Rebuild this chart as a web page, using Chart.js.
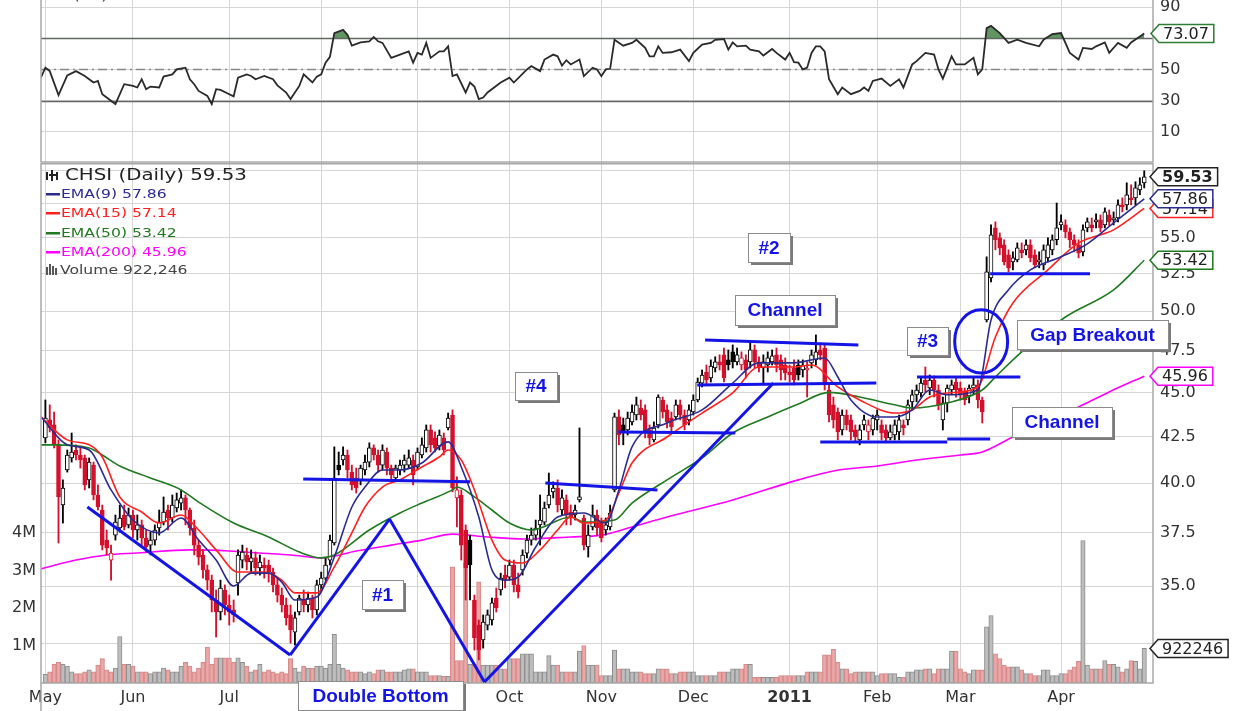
<!DOCTYPE html>
<html>
<head>
<meta charset="utf-8">
<title>CHSI Daily</title>
<script src="https://cdn.jsdelivr.net/npm/chart.js@4.4.0/dist/chart.umd.min.js"></script>
<style>
  html, body { margin: 0; padding: 0; background: #fff; }
  #wrap { position: relative; width: 1235px; height: 711px; overflow: hidden; background: #fff; }
  #rsi-chart { position: absolute; left: 0; top: 0; }
  #price-chart { position: absolute; left: 0; top: 163px; }
</style>
</head>
<body>
<div id="wrap">
  <canvas id="rsi-chart" width="1235" height="163"></canvas>
  <canvas id="price-chart" width="1235" height="548"></canvas>
</div>
<script>
// trading days are numbered 0..251 (May 3 2010 .. Apr 29 2011)
var monthDays = [0, 20, 42, 63, 85, 106, 127, 148, 170, 190, 209, 232];
var monthLabels = ['May', 'Jun', 'Jul', 'Aug', 'Sep', 'Oct', 'Nov', 'Dec', '2011', 'Feb', 'Mar', 'Apr'];
var priceTicks = [32.5, 35, 37.5, 40, 42.5, 45, 47.5, 50, 52.5, 55, 57.5, 60];
var volumeTicks = [1e6, 2e6, 3e6, 4e6];
var rsiTicks = [-10, 0, 10, 20, 30, 40, 50, 60, 70, 80, 90];

var openP = [
  42.42, 43.42, 43.14, 42.04, 38.88, 40.69, 41.33, 41.76, 41.49, 41.33,
  40.17, 40.95, 39.39, 38.63, 37.15, 36.20, 37.39, 37.74, 38.38, 37.89,
  38.38, 37.64, 37.89, 37.25, 36.91, 37.15, 37.74, 38.03, 38.63, 38.23,
  38.73, 38.98, 39.24, 38.63, 37.74, 36.91, 36.44, 35.74, 35.27, 34.37,
  33.84, 34.82, 34.15, 33.93, 35.14, 36.20, 36.44, 36.11, 36.30, 35.83,
  35.97, 35.97, 35.64, 35.05, 34.59, 34.15, 33.71, 32.97, 33.84, 34.37,
  34.15, 34.46, 33.93, 35.05, 35.36, 36.20, 37.01, 40.95, 41.22, 41.49,
  40.58, 40.27, 40.17, 40.69, 41.11, 41.87, 41.49, 40.95, 41.65, 40.79,
  40.27, 40.69, 40.95, 40.95, 41.22, 40.85, 41.49, 41.87, 42.86, 42.42,
  41.98, 42.42, 42.97, 43.70, 39.24, 39.39, 37.64, 37.15, 34.37, 33.27,
  32.63, 33.27, 33.49, 34.46, 34.82, 35.50, 35.41, 35.97, 35.05, 35.74,
  36.53, 37.15, 37.39, 37.89, 38.03, 38.88, 39.55, 39.75, 38.63, 39.14,
  38.53, 38.38, 39.14, 38.23, 36.82, 37.79, 38.38, 38.03, 37.64, 37.79,
  39.65, 43.59, 43.14, 42.86, 43.31, 43.70, 44.10, 43.99, 42.86, 42.31,
  43.14, 44.56, 43.99, 43.53, 43.59, 44.28, 43.70, 43.42, 43.87, 44.56,
  45.55, 46.21, 45.85, 46.45, 46.82, 47.25, 46.94, 47.43, 46.82, 46.63,
  46.94, 46.82, 47.55, 46.82, 46.45, 46.63, 46.82, 47.25, 46.94, 46.63,
  46.21, 46.45, 46.63, 46.33, 46.33, 46.76, 46.94, 47.55, 47.67, 45.14,
  44.28, 43.87, 42.86, 43.70, 43.42, 42.86, 42.31, 43.14, 42.75, 42.86,
  43.42, 43.14, 42.86, 42.42, 42.58, 42.75, 43.14, 43.42, 44.45, 44.86,
  44.97, 45.73, 45.26, 45.73, 45.14, 43.42, 44.39, 45.14, 45.61, 45.26,
  45.03, 44.80, 45.26, 45.44, 44.56, 49.44, 52.21, 55.71, 55.00, 54.50,
  53.80, 53.31, 53.45, 54.15, 54.15, 54.50, 53.80, 53.31, 53.10, 53.59,
  54.15, 54.86, 55.93, 55.93, 55.43, 54.86, 54.50, 54.01, 55.71, 55.93,
  56.15, 56.30, 55.93, 56.66, 56.30, 56.44, 57.40, 57.40, 57.93, 57.93,
  58.53, 59.07
];
var highP = [
  44.56, 44.28, 43.87, 42.31, 40.17, 41.76, 42.69, 42.04, 41.87, 41.49,
  41.33, 41.11, 39.91, 38.88, 37.64, 36.91, 38.38, 38.88, 38.88, 38.73,
  38.63, 38.38, 38.13, 37.64, 37.54, 37.89, 38.63, 39.29, 38.88, 39.39,
  39.49, 39.65, 39.39, 38.73, 38.13, 37.15, 36.68, 35.97, 35.50, 34.82,
  35.27, 35.05, 34.59, 34.37, 36.68, 36.91, 36.77, 36.68, 36.58, 36.44,
  36.30, 36.20, 35.83, 35.36, 34.91, 34.46, 34.15, 33.84, 34.59, 34.82,
  34.73, 34.59, 35.27, 35.64, 36.30, 37.39, 41.93, 41.65, 41.93, 41.76,
  40.95, 40.79, 40.95, 41.49, 42.15, 42.04, 41.76, 42.04, 41.87, 40.95,
  40.95, 41.22, 41.49, 41.76, 41.49, 41.87, 42.42, 43.14, 43.14, 42.75,
  42.86, 42.69, 43.81, 43.99, 40.33, 39.65, 37.89, 37.39, 34.59, 33.49,
  33.71, 33.93, 34.46, 34.91, 35.59, 35.97, 36.20, 36.20, 35.59, 36.68,
  37.39, 37.74, 38.13, 39.39, 39.03, 40.53, 40.07, 40.17, 39.65, 39.39,
  38.88, 38.88, 42.97, 38.38, 37.89, 38.88, 38.63, 38.23, 38.23, 38.88,
  43.81, 43.99, 43.53, 43.87, 44.28, 44.73, 44.56, 44.28, 43.14, 43.31,
  44.86, 44.73, 44.28, 43.87, 44.56, 44.56, 43.99, 44.28, 44.86, 45.85,
  46.33, 46.63, 46.94, 47.13, 47.25, 47.67, 47.55, 47.86, 47.67, 47.43,
  47.25, 48.04, 47.86, 47.13, 47.25, 47.43, 47.55, 47.67, 47.25, 47.06,
  46.63, 46.94, 46.94, 46.94, 46.82, 47.55, 48.49, 47.86, 47.86, 45.44,
  44.73, 44.10, 43.99, 43.99, 43.70, 43.14, 43.14, 43.70, 43.42, 43.70,
  43.99, 43.42, 43.14, 43.14, 43.42, 43.70, 43.42, 44.56, 45.14, 45.44,
  45.85, 46.51, 46.03, 45.97, 45.44, 44.73, 45.44, 45.73, 45.85, 45.61,
  45.26, 45.44, 45.91, 45.73, 44.73, 53.66, 55.93, 56.15, 55.35, 54.86,
  54.15, 54.01, 54.64, 54.64, 54.86, 54.86, 54.15, 54.01, 54.50, 55.00,
  55.21, 57.54, 56.66, 56.30, 55.71, 55.21, 54.86, 55.93, 56.44, 56.44,
  56.74, 56.66, 57.18, 57.03, 56.88, 57.78, 57.93, 59.07, 58.92, 59.15,
  59.46, 60.00
];
var lowP = [
  42.15, 42.75, 41.87, 37.01, 37.98, 40.58, 41.11, 41.22, 40.79, 39.65,
  39.75, 39.14, 38.63, 36.68, 36.44, 35.27, 37.15, 37.54, 37.64, 37.74,
  37.25, 37.15, 36.91, 36.58, 36.44, 36.91, 37.39, 37.89, 37.64, 38.03,
  38.53, 38.63, 37.89, 37.39, 36.44, 35.97, 35.36, 34.82, 33.84, 32.76,
  33.49, 33.71, 33.27, 33.40, 34.59, 35.83, 35.74, 35.64, 35.50, 35.50,
  35.36, 35.18, 34.73, 34.28, 33.84, 33.27, 32.50, 32.42, 33.71, 33.84,
  33.84, 33.58, 33.71, 34.82, 35.27, 35.97, 36.91, 40.43, 40.95, 40.27,
  39.65, 39.49, 39.91, 40.43, 40.85, 41.22, 40.58, 40.69, 40.43, 40.17,
  40.07, 40.43, 40.58, 40.79, 39.91, 40.69, 41.33, 41.65, 41.65, 41.65,
  41.76, 41.49, 42.86, 39.55, 37.79, 36.20, 34.37, 34.37, 32.21, 31.80,
  32.29, 33.06, 33.27, 33.84, 34.59, 34.91, 35.27, 34.73, 34.46, 35.50,
  36.30, 36.91, 37.15, 36.91, 37.89, 38.73, 39.24, 38.53, 38.38, 37.89,
  37.89, 38.13, 39.03, 36.68, 36.34, 37.64, 37.39, 37.06, 37.39, 37.64,
  39.55, 42.04, 42.04, 42.58, 43.14, 43.42, 43.42, 42.42, 42.04, 42.20,
  42.97, 43.53, 42.97, 42.75, 43.42, 43.42, 42.86, 43.14, 43.70, 44.45,
  45.32, 45.44, 45.61, 46.21, 46.33, 45.61, 46.33, 46.45, 46.63, 46.33,
  45.85, 46.45, 46.45, 46.21, 45.44, 46.21, 46.63, 46.21, 45.73, 45.73,
  45.61, 45.44, 45.73, 45.91, 44.73, 46.45, 46.63, 46.94, 45.14, 43.31,
  42.97, 42.31, 42.58, 42.86, 42.31, 42.20, 42.04, 42.86, 42.31, 42.58,
  42.86, 42.31, 42.20, 42.31, 42.31, 42.31, 42.58, 43.14, 43.99, 44.45,
  44.73, 45.02, 44.86, 44.73, 43.99, 42.86, 43.87, 44.86, 44.73, 44.56,
  44.28, 44.39, 44.86, 44.10, 43.25, 49.31, 51.94, 54.15, 53.80, 53.10,
  52.62, 52.76, 53.31, 53.59, 53.80, 53.31, 52.90, 52.90, 52.76, 53.31,
  53.80, 54.50, 55.57, 55.00, 54.29, 54.01, 53.59, 53.73, 55.43, 55.43,
  55.71, 55.43, 55.71, 55.86, 55.93, 56.15, 56.88, 57.03, 57.40, 57.40,
  58.16, 58.68
];
var closeP = [
  43.53, 42.97, 42.04, 39.29, 39.75, 41.49, 41.65, 41.49, 41.22, 39.91,
  41.11, 39.39, 38.78, 36.91, 36.77, 36.53, 38.03, 38.23, 37.79, 38.38,
  37.64, 37.89, 37.25, 36.82, 37.15, 37.64, 38.03, 38.53, 38.23, 38.88,
  39.14, 39.24, 38.63, 37.74, 36.91, 36.34, 35.74, 35.27, 34.37, 33.84,
  34.91, 34.15, 33.84, 33.71, 36.44, 36.58, 36.11, 36.30, 35.83, 36.11,
  35.83, 35.64, 35.05, 34.59, 34.15, 33.58, 33.06, 33.58, 34.46, 34.15,
  34.46, 33.93, 35.05, 35.36, 35.97, 37.15, 40.27, 40.69, 41.49, 40.69,
  39.91, 39.75, 40.79, 41.11, 41.87, 41.49, 40.95, 41.76, 40.79, 40.43,
  40.79, 40.95, 41.22, 41.33, 40.43, 41.65, 42.04, 42.86, 42.04, 41.87,
  42.58, 41.76, 43.53, 39.75, 39.65, 36.91, 35.83, 35.97, 32.72, 32.21,
  33.40, 33.71, 34.24, 34.02, 35.36, 35.27, 35.97, 35.05, 34.73, 36.44,
  37.15, 37.39, 37.74, 38.13, 38.73, 39.39, 39.75, 38.88, 39.24, 38.38,
  38.23, 38.63, 39.29, 36.91, 37.39, 38.38, 37.74, 37.25, 37.89, 38.48,
  43.59, 42.58, 42.75, 43.53, 43.87, 44.28, 43.70, 42.75, 42.42, 42.97,
  44.73, 43.87, 43.31, 43.03, 44.28, 43.70, 43.14, 43.99, 44.56, 45.61,
  46.03, 45.73, 46.57, 46.82, 46.63, 45.85, 46.63, 46.82, 47.25, 47.06,
  46.33, 47.55, 46.82, 46.45, 46.82, 47.06, 47.19, 46.63, 46.33, 46.15,
  46.03, 45.73, 46.03, 46.63, 46.45, 47.25, 47.43, 47.25, 45.44, 43.70,
  43.42, 42.75, 43.70, 43.14, 42.75, 42.47, 42.86, 43.42, 43.14, 43.53,
  43.70, 42.69, 42.42, 42.75, 43.14, 43.42, 42.97, 44.28, 44.86, 45.14,
  45.55, 45.44, 45.73, 45.14, 44.28, 44.39, 45.26, 45.44, 45.14, 44.86,
  44.56, 45.26, 45.44, 44.56, 43.87, 52.62, 55.21, 54.86, 54.29, 53.31,
  52.90, 53.59, 54.29, 53.94, 54.50, 53.59, 53.10, 53.45, 54.15, 54.50,
  54.86, 55.71, 56.15, 55.43, 54.86, 54.50, 53.94, 55.57, 56.15, 55.71,
  56.30, 55.71, 56.88, 56.15, 56.44, 57.40, 57.25, 58.16, 57.78, 58.68,
  58.92, 59.53
];
// volume in millions of shares
var volumeM = [
  0.23, 0.30, 0.50, 0.55, 0.50, 0.45, 0.30, 0.25, 0.25, 0.30,
  0.35, 0.30, 0.48, 0.65, 0.35, 0.30, 0.40, 1.24, 0.50, 0.50,
  0.45, 0.30, 0.30, 0.30, 0.25, 0.30, 0.30, 0.40, 0.35, 0.30,
  0.30, 0.45, 0.55, 0.45, 0.30, 0.40, 0.55, 0.96, 0.50, 0.67,
  0.67, 0.67, 0.67, 0.55, 0.67, 0.55, 0.45, 0.30, 0.35, 0.50,
  0.30, 0.35, 0.30, 0.25, 0.30, 0.25, 0.65, 0.40, 0.30, 0.45,
  0.40, 0.40, 0.45, 0.45, 0.40, 0.50, 1.30, 0.50, 0.40, 0.35,
  0.30, 0.30, 0.30, 0.25, 0.30, 0.25, 0.35, 0.35, 0.30, 0.30,
  0.30, 0.30, 0.35, 0.38, 0.38, 0.30, 0.30, 0.30, 0.20, 0.20,
  0.20, 0.18, 0.18, 3.10, 0.60, 0.60, 3.20, 0.50, 0.50, 2.70,
  0.48, 0.48, 0.48, 0.48, 0.38, 0.38, 0.65, 0.65, 0.65, 0.78,
  0.78, 0.78, 0.30, 0.30, 0.30, 0.73, 0.48, 0.48, 0.30, 0.30,
  0.30, 0.30, 0.85, 1.00, 0.48, 0.48, 0.48, 0.20, 0.20, 0.20,
  0.88, 0.38, 0.38, 0.38, 0.30, 0.30, 0.30, 0.25, 0.25, 0.25,
  0.38, 0.38, 0.38, 0.25, 0.25, 0.30, 0.30, 0.30, 0.30, 0.20,
  0.20, 0.20, 0.20, 0.20, 0.30, 0.30, 0.30, 0.38, 0.38, 0.38,
  0.50, 0.50, 0.15, 0.15, 0.15, 0.15, 0.15, 0.15, 0.20, 0.20,
  0.20, 0.20, 0.20, 0.20, 0.30, 0.30, 0.30, 0.30, 0.75, 0.75,
  0.90, 0.55, 0.38, 0.38, 0.25, 0.30, 0.30, 0.30, 0.30, 0.30,
  0.20, 0.25, 0.25, 0.25, 0.25, 0.15, 0.15, 0.30, 0.30, 0.35,
  0.35, 0.38, 0.38, 0.25, 0.38, 0.38, 0.38, 0.85, 0.85, 0.38,
  0.30, 0.25, 0.35, 0.35, 0.35, 1.50, 1.80, 0.78, 0.65, 0.48,
  0.43, 0.43, 0.43, 0.35, 0.25, 0.25, 0.20, 0.20, 0.35, 0.35,
  0.20, 0.20, 0.25, 0.25, 0.35, 0.43, 0.58, 3.80, 0.48, 0.38,
  0.38, 0.38, 0.60, 0.50, 0.50, 0.43, 0.30, 0.38, 0.60, 0.58,
  0.38, 0.922246
];

// moving averages, read at turning points (day, price)
var ema9Day = [-1, 5, 10, 15, 20, 26, 31, 35, 39, 43, 47, 51, 54, 57, 62, 66, 70, 73, 77, 81, 86, 92, 95, 99, 102, 105, 108, 112, 117, 123, 128, 131, 134, 142, 150, 157, 163, 171, 178, 181, 184, 190, 194, 198, 202, 206, 213, 216, 220, 225, 232, 238, 244, 251];
var ema9Val = [43.59, 42.04, 41.76, 39.65, 38.13, 37.50, 38.23, 37.15, 36.20, 35.00, 35.59, 35.59, 35.18, 34.37, 34.50, 36.34, 38.78, 39.80, 40.69, 40.69, 41.06, 42.20, 40.85, 38.28, 35.74, 35.27, 35.41, 36.82, 38.28, 38.48, 37.98, 39.65, 41.93, 43.25, 43.99, 45.55, 46.76, 46.76, 47.06, 45.91, 44.56, 43.59, 43.59, 43.99, 45.14, 44.86, 45.14, 49.44, 51.41, 52.76, 53.66, 54.57, 56.08, 57.86];
var ema15Day = [-1, 5, 10, 13, 17, 22, 26, 31, 35, 39, 44, 50, 54, 57, 62, 66, 70, 73, 77, 81, 86, 90, 92, 95, 98, 102, 105, 109, 113, 117, 120, 123, 128, 131, 134, 142, 150, 157, 163, 171, 175, 181, 186, 194, 198, 202, 206, 213, 217, 221, 229, 236, 244, 251];
var ema15Val = [43.59, 42.31, 42.04, 41.38, 39.29, 38.53, 37.98, 38.38, 37.64, 36.68, 35.64, 35.64, 35.27, 34.69, 34.69, 35.88, 37.50, 38.78, 39.80, 40.17, 40.85, 41.38, 41.76, 41.22, 39.65, 37.15, 36.20, 36.06, 36.68, 37.64, 38.28, 37.98, 38.13, 39.49, 41.06, 42.47, 43.81, 44.97, 46.51, 46.51, 46.63, 45.32, 44.56, 43.81, 43.99, 44.73, 44.97, 45.32, 48.36, 50.54, 52.76, 54.64, 55.57, 57.14];
var ema50Day = [-1, 2, 10, 13, 17, 24, 31, 35, 43, 51, 58, 63, 66, 74, 81, 86, 93, 94, 98, 102, 106, 111, 120, 123, 130, 134, 142, 150, 157, 165, 172, 179, 186, 194, 198, 206, 214, 217, 223, 233, 244, 251];
var ema50Val = [42.04, 42.04, 41.87, 41.49, 40.90, 40.27, 39.65, 39.03, 37.98, 37.30, 36.58, 36.30, 36.44, 37.64, 38.48, 38.98, 39.65, 39.80, 39.29, 38.63, 37.98, 37.64, 38.28, 38.03, 38.13, 38.98, 40.17, 41.33, 42.69, 43.59, 44.33, 45.00, 44.73, 44.28, 44.10, 44.39, 45.14, 45.91, 47.43, 49.63, 51.41, 53.42];
var ema200Day = [-1, 7, 14, 21, 33, 42, 49, 56, 63, 71, 79, 86, 93, 101, 109, 120, 127, 134, 142, 157, 172, 180, 190, 199, 209, 214, 221, 229, 236, 243, 251];
var ema200Val = [35.79, 36.20, 36.44, 36.53, 36.68, 36.63, 36.53, 36.44, 36.30, 36.63, 36.91, 37.15, 37.44, 37.30, 37.20, 37.30, 37.39, 37.79, 38.28, 39.14, 40.17, 40.64, 40.90, 41.22, 41.49, 41.65, 42.47, 43.36, 44.16, 45.03, 45.96];

// RSI(14) readings (day, value)
var rsiDay = [-1, 0, 1, 3, 5, 7, 9, 10, 11, 12, 13, 14, 16, 18, 20, 21, 22, 23, 24, 26, 27, 29, 30, 32, 33, 34, 35, 37, 38, 39, 40, 42, 43, 44, 46, 47, 48, 50, 52, 53, 55, 56, 58, 59, 61, 62, 63, 64, 65, 66, 68, 69, 70, 72, 74, 75, 76, 77, 79, 81, 83, 84, 85, 86, 87, 88, 90, 91, 92, 93, 94, 96, 97, 98, 99, 100, 101, 104, 106, 107, 110, 111, 113, 114, 116, 117, 118, 119, 120, 122, 123, 125, 126, 127, 128, 129, 130, 132, 134, 135, 137, 138, 139, 140, 141, 143, 145, 147, 148, 150, 152, 153, 155, 156, 157, 158, 160, 161, 163, 164, 166, 167, 169, 170, 171, 172, 173, 174, 175, 176, 177, 178, 179, 181, 182, 184, 186, 187, 188, 189, 191, 193, 195, 196, 198, 199, 201, 203, 204, 205, 207, 208, 210, 212, 213, 214, 215, 216, 218, 220, 222, 224, 227, 228, 230, 232, 234, 236, 237, 239, 240, 242, 243, 245, 247, 248, 250, 251];
var rsiVal = [44.9, 51.1, 48.9, 33.5, 46.2, 48.9, 45.8, 43.7, 41.6, 42.6, 34.1, 32.0, 27.8, 40.5, 39.4, 38.4, 43.7, 37.3, 39.0, 38.4, 45.4, 46.8, 50.0, 51.1, 43.7, 40.5, 36.2, 33.0, 27.8, 37.3, 36.9, 34.1, 32.7, 44.7, 46.8, 45.8, 43.7, 45.8, 43.7, 39.8, 35.2, 31.0, 39.4, 46.8, 41.6, 45.4, 46.8, 54.3, 58.1, 73.3, 75.4, 72.2, 65.2, 67.3, 68.0, 70.8, 68.0, 67.0, 57.4, 59.5, 61.6, 54.3, 60.6, 59.5, 67.0, 57.4, 61.6, 61.6, 64.8, 45.7, 46.8, 35.2, 41.6, 39.0, 31.0, 32.0, 35.2, 41.6, 44.7, 41.6, 50.0, 52.1, 48.9, 56.3, 59.5, 58.4, 52.5, 55.9, 53.2, 56.3, 45.7, 51.1, 50.0, 45.7, 50.0, 50.4, 69.0, 65.2, 67.0, 69.0, 63.8, 58.4, 58.4, 64.8, 60.6, 61.0, 62.7, 55.3, 60.6, 65.9, 67.0, 69.0, 69.5, 62.7, 67.3, 64.8, 65.2, 62.7, 61.6, 58.9, 63.1, 60.6, 56.3, 60.6, 54.6, 54.3, 50.0, 51.1, 60.6, 64.8, 64.8, 61.6, 43.7, 34.1, 38.4, 34.1, 36.2, 38.4, 36.2, 42.6, 44.1, 39.4, 43.7, 38.4, 53.2, 55.3, 60.6, 59.5, 50.0, 44.1, 58.4, 53.2, 53.2, 57.4, 46.8, 50.0, 76.5, 77.9, 73.3, 67.0, 69.0, 67.0, 64.8, 69.0, 72.7, 73.3, 60.6, 56.3, 63.8, 63.1, 64.8, 67.3, 60.6, 67.0, 63.8, 67.3, 71.1, 73.07];

// hand-drawn pattern lines: [day1, price1, day2, price2]
var trendLines = [
  [9.6, 38.78, 55.9, 32.00],
  [55.9, 32.00, 78.6, 38.18],
  [78.6, 38.18, 100.3, 30.90],
  [100.3, 30.90, 166.3, 45.55],
  [58.9, 40.22, 97.0, 40.07],
  [114.2, 40.01, 139.8, 39.65],
  [130.9, 42.75, 157.6, 42.69],
  [148.9, 45.44, 189.8, 45.55],
  [150.7, 48.17, 185.7, 47.86],
  [177.0, 42.20, 206.0, 42.20],
  [206.0, 42.36, 215.8, 42.36],
  [199.1, 45.91, 222.7, 45.91],
  [215.8, 52.50, 238.6, 52.50]
];
// note boxes: text, top-left anchor (day, price), size in px
var notes = [
  { text: '#2', day: 160.5, price: 55.35, w: 42, h: 29 },
  { text: 'Channel', day: 157.6, price: 51.07, w: 100, h: 30 },
  { text: '#4', day: 107.3, price: 46.21, w: 42, h: 28 },
  { text: '#3', day: 196.8, price: 49.00, w: 41, h: 28 },
  { text: 'Gap Breakout', day: 222.0, price: 49.44, w: 151, h: 29 },
  { text: 'Channel', day: 220.8, price: 44.16, w: 100, h: 30 },
  { text: '#1', day: 72.4, price: 35.27, w: 41, h: 29 },
  { text: 'Double Bottom', day: 57.8, price: 30.94, w: 165, h: 29 }
];
// circled gap: day range and price range
var gapCircle = { day1: 207.7, day2: 219.8, price1: 46.15, price2: 50.09 };

var RED = '#d4102c';
var BLUE = '#1414e6';
var lastIdx = closeP.length - 1;

var candleColor = closeP.map(function (c, k) {
  return (k === 0 || c >= closeP[k - 1]) ? '#000000' : RED;
});
var bodyFill = closeP.map(function (c, k) {
  return c > openP[k] ? '#ffffff' : candleColor[k];
});

// keep every axis flush with the panel edges
function fixSize(w, h) {
  return function (s) {
    if (w !== null) s.width = w;
    if (h !== null) s.height = h;
    s.paddingTop = 0; s.paddingBottom = 0; s.paddingLeft = 0; s.paddingRight = 0;
  };
}

function drawTag(ctx, x, y, text, border, bold) {
  ctx.save();
  ctx.font = (bold ? 'bold ' : '') + '16px "DejaVu Sans"';
  var w = ctx.measureText(text).width + 9;
  var h = 18;
  ctx.beginPath();
  ctx.moveTo(x, y);
  ctx.lineTo(x + 8, y - h / 2);
  ctx.lineTo(x + 8 + w, y - h / 2);
  ctx.lineTo(x + 8 + w, y + h / 2);
  ctx.lineTo(x + 8, y + h / 2);
  ctx.closePath();
  ctx.fillStyle = '#ffffff';
  ctx.fill();
  ctx.lineWidth = 1.5;
  ctx.strokeStyle = border;
  ctx.stroke();
  ctx.fillStyle = '#222';
  ctx.textBaseline = 'middle';
  ctx.textAlign = 'left';
  ctx.fillText(text, x + 12, y + 1);
  ctx.restore();
}

function wideText(ctx, text, x, y, color, font) {
  ctx.save();
  ctx.font = font;
  ctx.fillStyle = color;
  ctx.textBaseline = 'middle';
  ctx.translate(x, y);
  ctx.scale(1.2, 1);
  ctx.fillText(text, 0, 0);
  ctx.restore();
}

// ---------- RSI panel ----------
var rsiPanel = {
  id: 'rsiPanel',
  beforeDatasetsDraw: function (chart) {
    var ctx = chart.ctx, a = chart.chartArea, ys = chart.scales.y;
    ctx.save();
    [30, 70].forEach(function (v) {
      var y = Math.round(ys.getPixelForValue(v)) + 0.5;
      ctx.strokeStyle = '#666';
      ctx.lineWidth = 1.5;
      ctx.beginPath(); ctx.moveTo(a.left, y); ctx.lineTo(a.right, y); ctx.stroke();
    });
    var y50 = Math.round(ys.getPixelForValue(50)) + 0.5;
    ctx.strokeStyle = '#888';
    ctx.setLineDash([9, 4, 2, 4]);
    ctx.beginPath(); ctx.moveTo(a.left, y50); ctx.lineTo(a.right, y50); ctx.stroke();
    ctx.restore();
  },
  afterDraw: function (chart) {
    var ctx = chart.ctx, a = chart.chartArea, ys = chart.scales.y;
    ctx.save();
    ctx.strokeStyle = '#a8a8a8';
    ctx.lineWidth = 1.5;
    ctx.strokeRect(a.left, a.top - 2, a.right - a.left, a.bottom - a.top + 1);
    ctx.restore();
    wideText(ctx, 'RSI(14) 73.07', 46, -4, '#333', '14px "DejaVu Sans"');
    drawTag(ctx, a.right - 2, ys.getPixelForValue(rsiVal[rsiVal.length - 1]), rsiVal[rsiVal.length - 1].toFixed(2), '#2e7d32', false);
  }
};

new Chart(document.getElementById('rsi-chart'), {
  type: 'line',
  data: {
    datasets: [{
      data: rsiDay.map(function (d, k) { return { x: d, y: rsiVal[k] }; }),
      borderColor: '#2a2a2a',
      borderWidth: 1.8,
      pointRadius: 0,
      tension: 0,
      fill: { target: { value: 70 }, above: 'rgba(70,128,70,0.85)', below: 'rgba(0,0,0,0)' }
    }]
  },
  options: {
    responsive: false,
    animation: false,
    layout: { padding: { left: 41, top: 0, right: 0, bottom: 0 } },
    plugins: { legend: { display: false }, tooltip: { enabled: false } },
    scales: {
      x: {
        type: 'linear', min: -1, max: 253, offset: false,
        afterBuildTicks: function (s) { s.ticks = monthDays.map(function (v) { return { value: v }; }); },
        afterFit: fixSize(null, 0),
        ticks: { display: false },
        grid: { color: '#d6d6d6', drawTicks: false },
        border: { display: false }
      },
      y: {
        position: 'right', min: -10, max: 94.5,
        afterBuildTicks: function (s) { s.ticks = rsiTicks.map(function (v) { return { value: v }; }); },
        afterFit: fixSize(82, null),
        ticks: {
          padding: 7, color: '#333', font: { family: 'DejaVu Sans', size: 16 },
          callback: function (v) { return [10, 30, 50, 70, 90].indexOf(v) >= 0 ? String(v) : ''; }
        },
        grid: { color: '#d6d6d6', drawTicks: false },
        border: { display: false }
      }
    }
  },
  plugins: [rsiPanel]
});

// ---------- price / volume panel ----------
var pricePanel = {
  id: 'pricePanel',
  afterDraw: function (chart) {
    var ctx = chart.ctx, a = chart.chartArea, xs = chart.scales.x, ys = chart.scales.y, yv = chart.scales.yVol;
    ctx.save();
    ctx.strokeStyle = '#a8a8a8';
    ctx.lineWidth = 1.5;
    ctx.strokeRect(a.left, a.top + 0.75, a.right - a.left, a.bottom - a.top - 0.75);
    ctx.beginPath(); ctx.moveTo(a.left, a.bottom); ctx.lineTo(a.left, chart.height); ctx.stroke();

    // pattern lines
    ctx.strokeStyle = BLUE;
    ctx.lineWidth = 3;
    trendLines.forEach(function (l) {
      ctx.beginPath();
      ctx.moveTo(xs.getPixelForValue(l[0]), ys.getPixelForValue(l[1]));
      ctx.lineTo(xs.getPixelForValue(l[2]), ys.getPixelForValue(l[3]));
      ctx.stroke();
    });
    var cx1 = xs.getPixelForValue(gapCircle.day1), cx2 = xs.getPixelForValue(gapCircle.day2);
    var cy1 = ys.getPixelForValue(gapCircle.price2), cy2 = ys.getPixelForValue(gapCircle.price1);
    ctx.beginPath();
    ctx.ellipse((cx1 + cx2) / 2, (cy1 + cy2) / 2, (cx2 - cx1) / 2, (cy2 - cy1) / 2, 0, 0, Math.PI * 2);
    ctx.stroke();

    // note boxes
    notes.forEach(function (n) {
      var x = Math.round(xs.getPixelForValue(n.day)), y = Math.round(ys.getPixelForValue(n.price));
      ctx.fillStyle = '#7a7a7a';
      ctx.fillRect(x + 3, y + 3, n.w, n.h);
      ctx.fillStyle = '#ffffff';
      ctx.fillRect(x, y, n.w, n.h);
      ctx.strokeStyle = '#8c8c8c';
      ctx.lineWidth = 1;
      ctx.strokeRect(x + 0.5, y + 0.5, n.w, n.h);
      ctx.fillStyle = BLUE;
      ctx.font = 'bold 19px "Liberation Sans"';
      ctx.textAlign = 'center';
      ctx.textBaseline = 'middle';
      ctx.fillText(n.text, x + n.w / 2, y + n.h / 2 + 1);
    });
    ctx.restore();

    // legend
    var lx = 46, legend = [
      { t: 'EMA(9) ' + ema9Val[ema9Val.length - 1].toFixed(2), c: '#2b2b90', y: 31 },
      { t: 'EMA(15) ' + ema15Val[ema15Val.length - 1].toFixed(2), c: '#ff2020', y: 50 },
      { t: 'EMA(50) ' + ema50Val[ema50Val.length - 1].toFixed(2), c: '#1f7a1f', y: 70 },
      { t: 'EMA(200) ' + ema200Val[ema200Val.length - 1].toFixed(2), c: '#ff00ff', y: 89 }
    ];
    ctx.save();
    ctx.fillStyle = '#222';
    ctx.fillRect(lx, 9, 2, 8); ctx.fillRect(lx + 5, 7, 2, 11); ctx.fillRect(lx + 10, 9, 2, 8); ctx.fillRect(lx + 3, 11, 9, 2);
    ctx.restore();
    wideText(ctx, 'CHSI (Daily) ' + closeP[lastIdx].toFixed(2), lx + 19, 13, '#222', '16.5px "DejaVu Sans"');
    legend.forEach(function (e) {
      ctx.save();
      ctx.fillStyle = e.c;
      ctx.fillRect(lx, e.y - 1, 14, 2.5);
      ctx.restore();
      wideText(ctx, e.t, lx + 15, e.y + 1, e.c, '13px "DejaVu Sans"');
    });
    ctx.save();
    ctx.fillStyle = '#555';
    ctx.fillRect(lx, 104, 2, 8); ctx.fillRect(lx + 3, 101, 2, 11); ctx.fillRect(lx + 6, 103, 2, 9); ctx.fillRect(lx + 9, 105, 2, 7);
    ctx.restore();
    wideText(ctx, 'Volume ' + Math.round(volumeM[lastIdx] * 1e6).toLocaleString('en-US'), lx + 14, 108, '#444', '13px "DejaVu Sans"');

    // last-value tags
    var tx = a.right - 3;
    drawTag(ctx, tx, ys.getPixelForValue(ema15Val[ema15Val.length - 1]), ema15Val[ema15Val.length - 1].toFixed(2), '#ff2020', false);
    drawTag(ctx, tx, ys.getPixelForValue(ema9Val[ema9Val.length - 1]), ema9Val[ema9Val.length - 1].toFixed(2), '#2b2b90', false);
    drawTag(ctx, tx, ys.getPixelForValue(closeP[lastIdx]), closeP[lastIdx].toFixed(2), '#222', true);
    drawTag(ctx, tx, ys.getPixelForValue(ema50Val[ema50Val.length - 1]), ema50Val[ema50Val.length - 1].toFixed(2), '#1f7a1f', false);
    drawTag(ctx, tx, ys.getPixelForValue(ema200Val[ema200Val.length - 1]), ema200Val[ema200Val.length - 1].toFixed(2), '#ff00ff', false);
    drawTag(ctx, tx, yv.getPixelForValue(volumeM[lastIdx] * 1e6), String(Math.round(volumeM[lastIdx] * 1e6)), '#222', false);
  }
};

function emaSet(days, vals, color, order) {
  return {
    type: 'line', yAxisID: 'y', order: order,
    data: days.map(function (d, k) { return { x: d, y: vals[k] }; }),
    borderColor: color, borderWidth: 1.6, pointRadius: 0,
    cubicInterpolationMode: 'monotone'
  };
}

new Chart(document.getElementById('price-chart'), {
  type: 'bar',
  data: {
    datasets: [
      {
        type: 'bar', yAxisID: 'yVol', order: 10, grouped: false,
        data: volumeM.map(function (v, k) { return { x: k, y: v * 1e6 }; }),
        backgroundColor: candleColor.map(function (c) { return c === RED ? 'rgba(232,160,160,0.9)' : '#bdbdbd'; }),
        borderColor: candleColor.map(function (c) { return c === RED ? '#d88a8a' : '#8e8e8e'; }),
        borderWidth: 1, borderSkipped: false, barThickness: 4.4
      },
      emaSet(ema200Day, ema200Val, '#ff00ff', 9),
      {
        type: 'bar', yAxisID: 'y', order: 8, grouped: false,
        data: lowP.map(function (l, k) { return { x: k, y: [l, highP[k]] }; }),
        backgroundColor: candleColor, barThickness: 1.2
      },
      {
        type: 'bar', yAxisID: 'y', order: 7, grouped: false,
        data: openP.map(function (o, k) { return { x: k, y: [o, closeP[k]] }; }),
        backgroundColor: bodyFill, borderColor: candleColor,
        borderWidth: 1, borderSkipped: false, barThickness: 4, minBarLength: 1
      },
      emaSet(ema50Day, ema50Val, '#1f7a1f', 3),
      emaSet(ema15Day, ema15Val, '#ff2020', 2),
      emaSet(ema9Day, ema9Val, '#2b2b90', 1)
    ]
  },
  options: {
    responsive: false,
    animation: false,
    layout: { padding: 0 },
    plugins: { legend: { display: false }, tooltip: { enabled: false } },
    scales: {
      x: {
        type: 'linear', min: -1, max: 253, offset: false,
        afterBuildTicks: function (s) { s.ticks = monthDays.map(function (v) { return { value: v }; }); },
        afterFit: fixSize(null, 28),
        ticks: {
          autoSkip: false, maxRotation: 0, padding: 5, color: '#333',
          font: function (c) {
            return { family: 'DejaVu Sans', size: 16, weight: (c.tick && c.tick.label === '2011') ? 'bold' : 'normal' };
          },
          callback: function (v) { var k = monthDays.indexOf(v); return k >= 0 ? monthLabels[k] : ''; }
        },
        grid: { color: '#d6d6d6', drawTicks: false, offset: false },
        border: { display: false }
      },
      y: {
        type: 'logarithmic', position: 'right', min: 30.86, max: 60.61,
        afterBuildTicks: function (s) { s.ticks = priceTicks.map(function (v) { return { value: v }; }); },
        afterFit: fixSize(82, null),
        ticks: {
          autoSkip: false, padding: 7, color: '#333', font: { family: 'DejaVu Sans', size: 16 },
          // the outermost grid lines carry no label
          callback: function (v) { return (v === 32.5 || v === 60) ? '' : Number(v).toFixed(1); }
        },
        grid: { color: '#d6d6d6', drawTicks: false },
        border: { display: false }
      },
      yVol: {
        type: 'linear', position: 'left', min: 0, max: 13.87e6,
        afterBuildTicks: function (s) { s.ticks = volumeTicks.map(function (v) { return { value: v }; }); },
        afterFit: fixSize(41, null),
        ticks: {
          autoSkip: false, padding: 5, color: '#333', font: { family: 'DejaVu Sans', size: 16 },
          callback: function (v) { return (v / 1e6) + 'M'; }
        },
        grid: { display: false, drawTicks: false },
        border: { display: false }
      }
    }
  },
  plugins: [pricePanel]
});
</script>
</body>
</html>
